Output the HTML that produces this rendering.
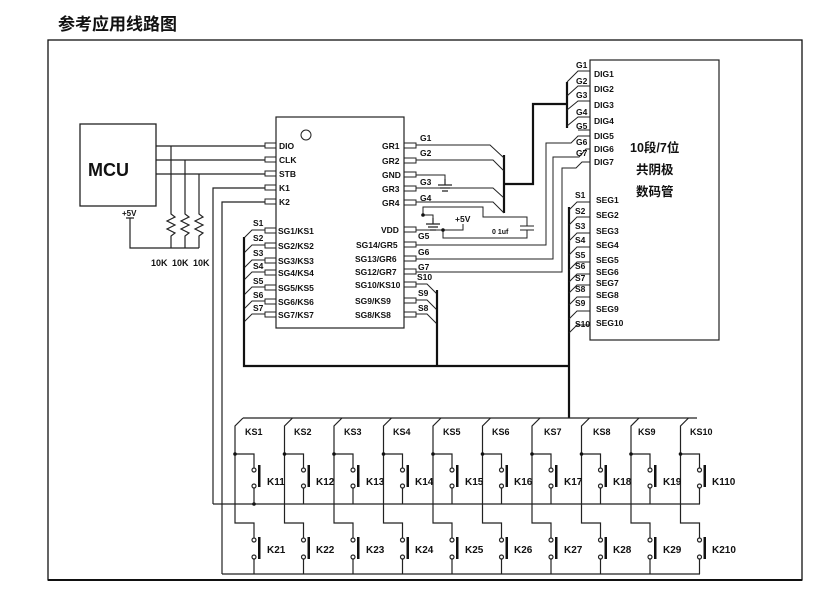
<!DOCTYPE html>
<html><head><meta charset="utf-8"><style>
html,body{margin:0;padding:0;background:#fff;}
svg{display:block;}
text{font-family:"Liberation Sans","Noto Sans CJK SC",sans-serif;font-weight:bold;fill:#111;}
</style></head><body>
<svg width="822" height="589" viewBox="0 0 822 589" xmlns="http://www.w3.org/2000/svg">
<defs>
<g id="col" fill="none" stroke="#222" stroke-width="1.2">
  <path d="M8,418 L0,426 L0,523 L19,523 L19,538"/>
  <path d="M0,454 L19,454 L19,468 M19,488 L19,504"/>
  <path d="M19,559 L19,574"/>
  <circle cx="19" cy="470" r="2"/><circle cx="19" cy="486" r="2"/>
  <circle cx="19" cy="540" r="2"/><circle cx="19" cy="557" r="2"/>
  <rect x="23" y="465" width="2.5" height="22" fill="#111" stroke="none"/>
  <rect x="23" y="537" width="2.5" height="22" fill="#111" stroke="none"/>
  <circle cx="0" cy="454" r="1.8" fill="#111" stroke="none"/>
</g>
<g id="gnd" stroke="#222" stroke-width="1.2"><path d="M0,0 V6 M-7,6 H7 M-5,9 H5 M-3,12 H3"/></g>
</defs>
<text x="58" y="30" font-size="17">参考应用线路图</text>
<rect x="48" y="40" width="754" height="540" fill="none" stroke="#111" stroke-width="1.3"/>
<line x1="48" y1="580" x2="802" y2="580" stroke="#111" stroke-width="2"/>

<!-- MCU -->
<rect x="80" y="124" width="76" height="82" fill="none" stroke="#222" stroke-width="1.3"/>
<text x="88" y="176" font-size="18">MCU</text>
<g fill="none" stroke="#222" stroke-width="1.2">
<path d="M156,146 H265 M156,160 H265 M156,174 H265 M265,188 H213 V504 M265,202 H222 V574"/>
<path d="M171,146 V214 l4,3 l-8,4 l8,4 l-8,4 l8,4 l-4,3 V248"/>
<path d="M185,160 V214 l4,3 l-8,4 l8,4 l-8,4 l8,4 l-4,3 V248"/>
<path d="M199,174 V214 l4,3 l-8,4 l8,4 l-8,4 l8,4 l-4,3 V248"/>
<path d="M126,218 H134 M130,218 V248 H199"/>
</g>
<text x="122" y="216" font-size="8">+5V</text>
<text x="151" y="266" font-size="9">10K</text>
<text x="172" y="266" font-size="9">10K</text>
<text x="193" y="266" font-size="9">10K</text>

<!-- Chip -->
<rect x="276" y="117" width="128" height="211" fill="none" stroke="#222" stroke-width="1.2"/>
<circle cx="306" cy="135" r="5" fill="none" stroke="#222" stroke-width="1"/>
<g fill="none" stroke="#222" stroke-width="1">
<rect x="265" y="143" width="11" height="5"/><rect x="265" y="157" width="11" height="5"/>
<rect x="265" y="171" width="11" height="5"/><rect x="265" y="185" width="11" height="5"/>
<rect x="265" y="199" width="11" height="5"/>
<rect x="265" y="228" width="11" height="5"/><rect x="265" y="243" width="11" height="5"/>
<rect x="265" y="258" width="11" height="5"/><rect x="265" y="270" width="11" height="5"/>
<rect x="265" y="285" width="11" height="5"/><rect x="265" y="299" width="11" height="5"/>
<rect x="265" y="312" width="11" height="5"/>
<rect x="404" y="143" width="12" height="5"/><rect x="404" y="158" width="12" height="5"/>
<rect x="404" y="172" width="12" height="5"/><rect x="404" y="186" width="12" height="5"/>
<rect x="404" y="200" width="12" height="5"/><rect x="404" y="227" width="12" height="5"/>
<rect x="404" y="242" width="12" height="5"/><rect x="404" y="256" width="12" height="5"/>
<rect x="404" y="269" width="12" height="5"/><rect x="404" y="282" width="12" height="5"/>
<rect x="404" y="298" width="12" height="5"/><rect x="404" y="312" width="12" height="5"/>
</g>
<g font-size="8.5">
<text x="279" y="149">DIO</text><text x="279" y="163">CLK</text><text x="279" y="177">STB</text>
<text x="279" y="191">K1</text><text x="279" y="205">K2</text>
<text x="278" y="234">SG1/KS1</text><text x="278" y="249">SG2/KS2</text><text x="278" y="264">SG3/KS3</text>
<text x="278" y="276">SG4/KS4</text><text x="278" y="291">SG5/KS5</text><text x="278" y="305">SG6/KS6</text>
<text x="278" y="318">SG7/KS7</text>
<text x="382" y="149">GR1</text><text x="382" y="164">GR2</text><text x="382" y="178">GND</text>
<text x="382" y="192">GR3</text><text x="382" y="206">GR4</text><text x="381" y="233">VDD</text>
<text x="356" y="248">SG14/GR5</text><text x="355" y="262">SG13/GR6</text><text x="355" y="275">SG12/GR7</text>
<text x="355" y="288">SG10/KS10</text><text x="355" y="304">SG9/KS9</text><text x="355" y="318">SG8/KS8</text>
</g>
<!-- left S lines -->
<g fill="none" stroke="#222" stroke-width="1">
<path d="M265,230 H252 L244,238 M265,245 H252 L244,253 M265,260 H252 L244,268 M265,272 H252 L244,280 M265,287 H252 L244,295 M265,301 H252 L244,309 M265,314 H252 L244,322"/>
<path d="M416,284 H427 L437,294 M416,300 H427 L437,310 M416,314 H427 L437,324"/>
</g>
<g fill="none" stroke="#111" stroke-width="2.2">
<path d="M244,237 V366 H569 M437,290 V366"/>
<path d="M569,207 V418"/>
<path d="M504,155 V213 M504,184 H533 V104 H567 M567,82 V128"/>
</g>
<g font-size="8.5">
<text x="253" y="226">S1</text><text x="253" y="241">S2</text><text x="253" y="256">S3</text>
<text x="253" y="269">S4</text><text x="253" y="284">S5</text><text x="253" y="298">S6</text><text x="253" y="311">S7</text>
<text x="417" y="280">S10</text><text x="418" y="296">S9</text><text x="418" y="311">S8</text>
</g>
<!-- GR lines -->
<g fill="none" stroke="#222" stroke-width="1">
<path d="M416,145 H490 L504,158 M416,160 H493 L504,171 M416,188 H493 L504,198 M416,202 H493 L504,213"/>
<path d="M416,175 H445 V181"/>
<path d="M423,215 V207 H483 V217 H527 V226 M520,226 H534 M520,230 H534 M527,230 V238 H443 V229 M416,230 H463 V224"/>
<path d="M423,215 H433 V220"/>
<path d="M416,245 H546 V143 H571 L578,136 H590 M416,259 H553 V157 H579 L586,149 H590 M416,272 H562 V168 H576 L582,162 H590"/>
</g>
<use href="#gnd" x="445" y="179"/>
<use href="#gnd" x="433" y="218"/>
<circle cx="423" cy="215" r="1.8" fill="#111"/><circle cx="443" cy="230" r="1.8" fill="#111"/>
<g font-size="8.5">
<text x="420" y="141">G1</text><text x="420" y="156">G2</text><text x="420" y="185">G3</text>
<text x="420" y="201">G4</text><text x="418" y="239">G5</text><text x="418" y="255">G6</text><text x="418" y="270">G7</text>
<text x="455" y="222">+5V</text>
</g>
<text x="492" y="234" font-size="7" font-weight="normal">0 1uf</text>

<!-- Display -->
<rect x="590" y="60" width="129" height="280" fill="none" stroke="#222" stroke-width="1.2"/>
<g fill="none" stroke="#222" stroke-width="1">
<path d="M590,71 H578 L567,82 M590,86 H578 L567,96 M590,101 H578 L567,110 M590,117 H578 L567,126 M590,130 H578"/>
<path d="M590,202 H577 L569,210 M590,217 H577 L569,225 M590,233 H577 L569,241 M590,247 H577 L569,255 M590,262 H577 L569,270 M590,274 H577 L569,282 M590,285 H577 L569,293 M590,297 H577 L569,305 M590,311 H577 L569,319 M590,325 H577 L569,333"/>
</g>
<g font-size="8.5">
<text x="576" y="68">G1</text><text x="576" y="84">G2</text><text x="576" y="98">G3</text>
<text x="576" y="115">G4</text><text x="576" y="129">G5</text><text x="576" y="145">G6</text><text x="576" y="156">G7</text>
<text x="594" y="77">DIG1</text><text x="594" y="92">DIG2</text><text x="594" y="108">DIG3</text>
<text x="594" y="124">DIG4</text><text x="594" y="139">DIG5</text><text x="594" y="152">DIG6</text><text x="594" y="165">DIG7</text>
<text x="575" y="198">S1</text><text x="575" y="214">S2</text><text x="575" y="229">S3</text><text x="575" y="243">S4</text>
<text x="575" y="258">S5</text><text x="575" y="269">S6</text><text x="575" y="281">S7</text><text x="575" y="292">S8</text>
<text x="575" y="306">S9</text><text x="575" y="327">S10</text>
<text x="596" y="203">SEG1</text><text x="596" y="218">SEG2</text><text x="596" y="234">SEG3</text>
<text x="596" y="248">SEG4</text><text x="596" y="263">SEG5</text><text x="596" y="275">SEG6</text>
<text x="596" y="286">SEG7</text><text x="596" y="298">SEG8</text><text x="596" y="312">SEG9</text>
<text x="596" y="326">SEG10</text>
</g>
<g font-size="12.5">
<text x="630" y="152">10段/7位</text>
<text x="636" y="174">共阴极</text>
<text x="636" y="196">数码管</text>
</g>

<!-- Keys -->
<g fill="none" stroke="#222" stroke-width="1.2">
<path d="M243,418 H697 M213,504 H700 M222,574 H700"/>
</g>
<circle cx="254" cy="504" r="1.8" fill="#111"/>
<use href="#col" x="235"/><use href="#col" x="284.5"/><use href="#col" x="334"/>
<use href="#col" x="383.5"/><use href="#col" x="433"/><use href="#col" x="482.5"/>
<use href="#col" x="532"/><use href="#col" x="581.5"/><use href="#col" x="631"/>
<use href="#col" x="680.5"/>
<g font-size="9">
<text x="245" y="435">KS1</text><text x="294" y="435">KS2</text><text x="344" y="435">KS3</text>
<text x="393" y="435">KS4</text><text x="443" y="435">KS5</text><text x="492" y="435">KS6</text>
<text x="544" y="435">KS7</text><text x="593" y="435">KS8</text><text x="638" y="435">KS9</text>
<text x="690" y="435">KS10</text>
</g>
<g font-size="10">
<text x="267" y="485">K11</text><text x="316" y="485">K12</text><text x="366" y="485">K13</text>
<text x="415" y="485">K14</text><text x="465" y="485">K15</text><text x="514" y="485">K16</text>
<text x="564" y="485">K17</text><text x="613" y="485">K18</text><text x="663" y="485">K19</text>
<text x="712" y="485">K110</text>
<text x="267" y="553">K21</text><text x="316" y="553">K22</text><text x="366" y="553">K23</text>
<text x="415" y="553">K24</text><text x="465" y="553">K25</text><text x="514" y="553">K26</text>
<text x="564" y="553">K27</text><text x="613" y="553">K28</text><text x="663" y="553">K29</text>
<text x="712" y="553">K210</text>
</g>
</svg>
</body></html>
